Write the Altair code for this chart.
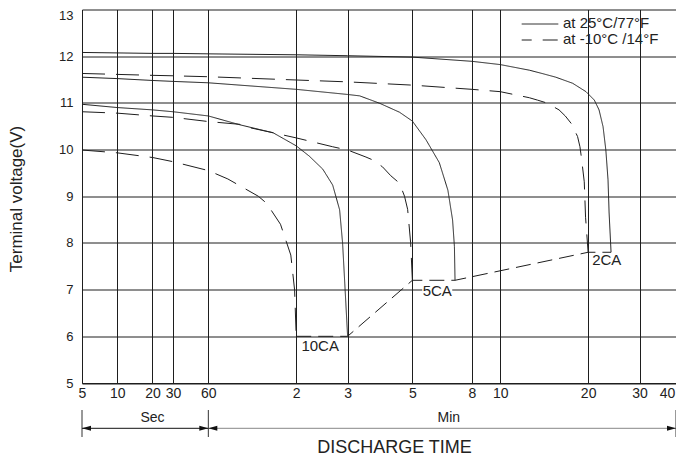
import json
import altair as alt
import numpy as np
import pandas as pd

# ---------------- data ----------------
tick_times = [5, 10, 20, 30, 60, 120, 180, 300, 480, 600, 1200, 1800, 2400]  # seconds
tick_labels = ["5", "10", "20", "30", "60", "2", "3", "5", "8", "10", "20", "30", "40"]
volt_ticks = [5, 6, 7, 8, 9, 10, 11, 12, 13]

# 25°C / 77°F (solid)
t_2ca_warm = [5, 10, 20, 30, 60, 120, 180, 300, 480, 600, 755, 834, 930, 1062, 1180, 1260, 1308, 1350, 1380, 1404, 1416, 1438]
v_2ca_warm = [12.08, 12.07, 12.06, 12.06, 12.05, 12.03, 12.01, 11.98, 11.89, 11.82, 11.70, 11.63, 11.55, 11.42, 11.24, 11.06, 10.85, 10.49, 9.99, 9.35, 8.64, 7.80]
t_5ca_warm = [5, 10, 20, 30, 60, 120, 180, 198, 232, 271, 300, 334, 371, 397, 412, 418, 420]
v_5ca_warm = [11.55, 11.52, 11.48, 11.46, 11.43, 11.29, 11.18, 11.15, 10.99, 10.80, 10.61, 10.21, 9.72, 9.13, 8.49, 7.92, 7.20]
t_10ca_warm = [5, 10, 20, 30, 60, 77, 100, 120, 133, 148, 160, 169, 173, 176, 180]
v_10ca_warm = [10.97, 10.90, 10.85, 10.81, 10.72, 10.53, 10.36, 10.08, 9.86, 9.58, 9.24, 8.71, 8.00, 7.14, 6.00]

# -10°C / 14°F (dashed)
t_2ca_cold = [5, 10, 20, 30, 60, 120, 180, 300, 480, 600, 755, 804, 864, 954, 1002, 1050, 1104, 1125, 1137, 1164, 1176, 1200]
v_2ca_cold = [11.63, 11.61, 11.59, 11.58, 11.56, 11.49, 11.45, 11.38, 11.29, 11.24, 11.11, 11.06, 11.00, 10.85, 10.72, 10.56, 10.28, 10.06, 9.85, 9.31, 8.55, 7.80]
t_5ca_cold = [5, 10, 20, 30, 60, 77, 83, 100, 120, 160, 180, 208, 219, 237, 253, 271, 282, 289, 296, 300]
v_5ca_cold = [10.81, 10.78, 10.72, 10.69, 10.60, 10.54, 10.47, 10.36, 10.25, 10.06, 9.99, 9.84, 9.78, 9.63, 9.44, 9.28, 9.00, 8.72, 8.00, 7.20]
t_10ca_cold = [5, 10, 20, 30, 60, 70, 89, 95, 106, 115, 118.5, 120]
v_10ca_cold = [9.99, 9.93, 9.83, 9.74, 9.55, 9.37, 9.00, 8.85, 8.40, 7.74, 6.99, 6.00]

# end-voltage line
t_cut = [120, 180, 300, 420, 1200, 1438]
v_cut = [6.0, 6.0, 7.2, 7.2, 7.8, 7.8]

# curve labels
lab_text = ["10CA", "5CA", "2CA"]
lab_t = [145, 365, 1390]
lab_v = [5.80, 6.98, 7.64]

temp_names = ["at 25°C/77°F", "at -10°C /14°F"]

# ---------------- time axis transform (seconds part / minutes part) ----------------
SEC_RATIO = 0.401  # width of a decade in the "Sec" part relative to the "Min" part


def tpos(t):
    t = np.asarray(t, dtype=float)
    return np.where(t <= 60, np.log10(t / 5.0) * SEC_RATIO,
                    np.log10(12.0) * SEC_RATIO + np.log10(t / 60.0))


curves = []
for name, temp, ts, vs in [
    ("2CA_w", temp_names[0], t_2ca_warm, v_2ca_warm),
    ("5CA_w", temp_names[0], t_5ca_warm, v_5ca_warm),
    ("10CA_w", temp_names[0], t_10ca_warm, v_10ca_warm),
    ("2CA_c", temp_names[1], t_2ca_cold, v_2ca_cold),
    ("5CA_c", temp_names[1], t_5ca_cold, v_5ca_cold),
    ("10CA_c", temp_names[1], t_10ca_cold, v_10ca_cold),
]:
    curves.append(pd.DataFrame({"t": ts, "v": vs, "curve": name, "temp": temp, "i": range(len(ts))}))
df = pd.concat(curves, ignore_index=True)
df["pos"] = tpos(df["t"])

cut = pd.DataFrame({"t": t_cut, "v": v_cut, "i": range(len(t_cut))})
cut["pos"] = tpos(cut["t"])

labs = pd.DataFrame({"label": lab_text, "t": lab_t, "v": lab_v})
labs["pos"] = tpos(labs["t"])

tick_pos = [float(p) for p in tpos(tick_times)]
tick_keys = [int(round(p * 10000)) for p in tick_pos]
label_expr = f"{json.dumps(tick_labels)}[indexof({json.dumps(tick_keys)}, round(datum.value*10000))]"
xmax = float(tpos([2400])[0])
last_key = tick_keys[-1]

FONT = "Liberation Sans"
INK = "#1e1e1e"
W, H = 594, 373.5

xscale = alt.Scale(domain=[0, xmax], nice=False, zero=False)
yscale = alt.Scale(domain=[5, 13], nice=False, zero=False)

xaxis = alt.Axis(values=tick_pos, labelExpr=label_expr, grid=True, gridColor=INK, gridWidth=1,
                 ticks=False, domainColor=INK, labelFont=FONT, labelFontSize=14, labelColor="#222",
                 labelPadding=3, labelFlush=False, labelOverlap=False, labelBound=False,
                 labelOffset={"condition": {"test": f"round(datum.value*10000) == {last_key}", "value": -9},
                              "value": 0},
                 title="DISCHARGE TIME", titleFont=FONT, titleFontSize=18, titleFontWeight="normal",
                 titleColor="#222", titleX=312, titleY=64, titleBaseline="middle", titleAlign="center")
yaxis = alt.Axis(values=volt_ticks, grid=True, gridColor=INK, gridWidth=1, ticks=False,
                 domainColor=INK, labelFont=FONT, labelFontSize=13, labelColor="#222", labelPadding=9,
                 labelOffset={"condition": {"test": "datum.value == 13", "value": 6}, "value": 0},
                 title="Terminal voltage(V)", titleFont=FONT, titleFontSize=17, titleFontWeight="normal",
                 titleColor="#222", titleX=-65.5, titleY=189, titleAngle=-90, titleBaseline="middle",
                 titleAlign="center")

lines = alt.Chart(df).mark_line(strokeWidth=1, color=INK).encode(
    x=alt.X("pos:Q", scale=xscale, axis=xaxis),
    y=alt.Y("v:Q", scale=yscale, axis=yaxis),
    detail="curve:N",
    order="i:Q",
    strokeDash=alt.StrokeDash("temp:N", scale=alt.Scale(domain=temp_names, range=[[1, 0], [23, 11]]), legend=None),
)

cutline = alt.Chart(cut).mark_line(strokeWidth=1, color=INK, strokeDash=[15, 7]).encode(
    x=alt.X("pos:Q", scale=xscale), y=alt.Y("v:Q", scale=yscale), order="i:Q"
)

lab_bg = alt.Chart(labs).mark_point(shape="M-1,-0.45L1,-0.45L1,0.45L-1,0.45Z", filled=True,
                                     color="white", opacity=1, size=900).encode(
    x=alt.X("pos:Q", scale=xscale), y=alt.Y("v:Q", scale=yscale)
)
lab_txt = alt.Chart(labs).mark_text(font=FONT, fontSize=15, color="#222").encode(
    x=alt.X("pos:Q", scale=xscale), y=alt.Y("v:Q", scale=yscale), text="label:N"
)

# legend (top right, inside the plot)
one = pd.DataFrame({"a": [0]})
leg = []
for k, (name, dash) in enumerate(zip(temp_names, [[1, 0], [10, 11, 15, 1]])):
    yy = 14.5 + 16 * k
    leg.append(alt.Chart(one).mark_rule(strokeWidth=1, color=INK, strokeDash=dash).encode(
        x=alt.value(439.7), x2=alt.value(476.3), y=alt.value(yy)))
    leg.append(alt.Chart(one).mark_text(text=name, font=FONT, fontSize=15, color="#222",
                                        align="left", baseline="middle").encode(
        x=alt.value(481), y=alt.value(yy - 1.5)))

# Sec / Min brackets under the axis
brk = pd.DataFrame({"t0": [5, 60], "t1": [60, 2400], "name": ["Sec", "Min"],
                    "tl": [20, 400], "col": ["#111111", "#888888"]})
brk["p0"] = tpos(brk["t0"])
brk["p1"] = tpos(brk["t1"])
brk["pl"] = tpos(brk["tl"])
edges = pd.DataFrame({"t": [5, 60, 2400]})
edges["pos"] = tpos(edges["t"])
arrows = pd.DataFrame({"t": [5, 60, 60, 2400], "dir": ["L", "R", "L", "R"]})
arrows["pos"] = tpos(arrows["t"])

YB = 418.8
brk_lines = alt.Chart(brk).mark_rule(strokeWidth=1).encode(
    x=alt.X("p0:Q", scale=xscale), x2="p1:Q", y=alt.value(YB),
    color=alt.Color("col:N", scale=None))
brk_edges = alt.Chart(edges).mark_rule(strokeWidth=1, color="#333").encode(
    x=alt.X("pos:Q", scale=xscale), y=alt.value(400.5), y2=alt.value(427.5))
arr_r = alt.Chart(arrows[arrows["dir"] == "R"]).mark_point(
    shape="M0,0L-1,-0.28L-1,0.28Z", filled=True, color="#111", opacity=1, size=324).encode(
    x=alt.X("pos:Q", scale=xscale), y=alt.value(YB))
arr_l = alt.Chart(arrows[arrows["dir"] == "L"]).mark_point(
    shape="M0,0L1,-0.28L1,0.28Z", filled=True, color="#111", opacity=1, size=324).encode(
    x=alt.X("pos:Q", scale=xscale), y=alt.value(YB))
brk_txt = alt.Chart(brk).mark_text(font=FONT, fontSize=14, color="#222", baseline="middle").encode(
    x=alt.X("pl:Q", scale=xscale), y=alt.value(408.5), text="name:N")

chart = alt.layer(
    lines, cutline, lab_bg, lab_txt, *leg, brk_lines, brk_edges, arr_r, arr_l, brk_txt
).properties(
    width=W, height=H,
    autosize=alt.AutoSizeParams(type="none"),
    padding={"left": 74, "top": 1.5, "right": 0, "bottom": 74},
    background="white",
).configure_view(stroke=None)

chart.save("out.html", embed_options={"renderer": "svg", "actions": False})
